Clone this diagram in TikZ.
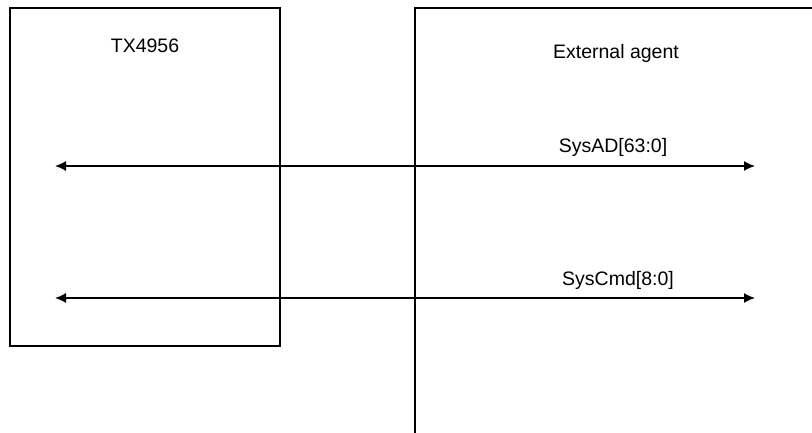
\documentclass[tikz,border=0pt]{standalone}
\usepackage{fontspec}
\setmainfont{Liberation Sans}
\usetikzlibrary{arrows.meta}
\begin{document}
\begin{tikzpicture}[x=1pt,y=-1pt,
  boxline/.style={line width=1.5pt},
  bus/.style={line width=1.5pt,{Latex[length=11pt,width=10pt]}-{Latex[length=11pt,width=10pt]}},
  lbl/.style={font=\fontsize{19.5}{22}\selectfont,inner sep=0pt}]
\useasboundingbox (0,0) rectangle (812,433);
\draw[boxline] (10,8) rectangle (280,346);
\draw[boxline] (415,433) -- (415,8) -- (813,8);
\node[lbl] (tx) at (145,46) {TX4956};
\node[lbl] (ext) at (616,53) {External agent};
\coordinate (a1) at (55,166);
\coordinate (a2) at (755,166);
\coordinate (c1) at (55,298);
\coordinate (c2) at (755,298);
\draw[bus] (a1) -- (a2);
\draw[bus] (c1) -- (c2);
\node[lbl] (sysad) at (613,147) {SysAD[63:0]};
\node[lbl] (syscmd) at (618,280) {SysCmd[8:0]};
\end{tikzpicture}
\end{document}
